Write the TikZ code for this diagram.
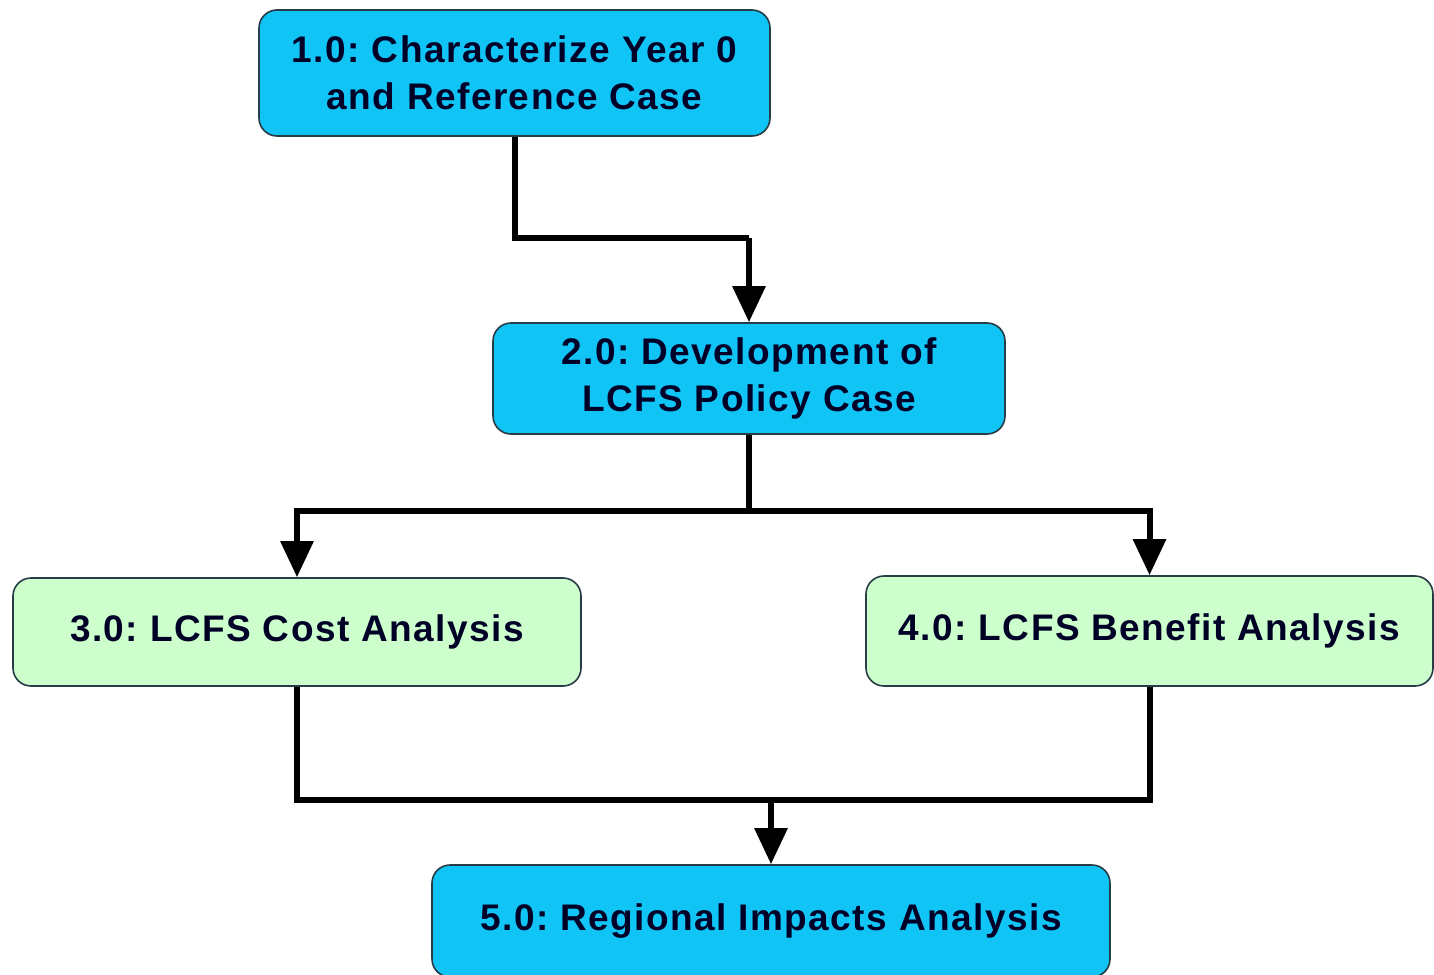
\documentclass[tikz,border=0pt]{standalone}
\usepackage{fontspec}
\setmainfont[LetterSpace=4]{Liberation Sans}
\usetikzlibrary{arrows.meta}
\definecolor{taskblue}{RGB}{16,196,245}
\definecolor{taskgreen}{RGB}{204,255,204}
\definecolor{rim}{RGB}{40,60,70}
\tikzset{every node/.style={rectangle,rounded corners=9pt,draw=rim,line width=0.8pt,align=center,inner sep=0pt,text=black!85!blue}}
\tikzset{blue/.style={fill=taskblue}}
\tikzset{green/.style={fill=taskgreen}}
\tikzset{link/.style={line width=3pt}}
\tikzset{arr/.style={link,-{Triangle[width=16pt,length=18pt]}}}

\begin{document}
\frenchspacing
\begin{tikzpicture}[x=0.5pt,y=-0.5pt,font=\fontsize{18.5}{23.5}\selectfont\bfseries]
      \useasboundingbox (0,0) rectangle (1434,974);
      \node[blue,minimum width=255.5pt,minimum height=63pt] (T1) at (514.5,73) {1.0: Characterize Year 0\\and Reference Case};
      \node[blue,minimum width=256pt,minimum height=55.5pt] (T2) at (749,378.5) {2.0: Development of\\LCFS Policy Case};
      \node[green,minimum width=284pt,minimum height=54pt] (T3) at (297,632) {3.0: LCFS Cost Analysis};
      \node[green,minimum width=283.5pt,minimum height=55pt] (T4) at (1149.5,631) {4.0: LCFS Benefit Analysis};
      \node[blue,minimum width=339pt,minimum height=56pt] (T5) at (771,921) {5.0: Regional Impacts Analysis};
      \coordinate (J12) at (749,238);
      \coordinate (S2) at (749,511);
      \coordinate (M5) at (771,800);
      \draw[link] (T1.south) |- (J12);
      \draw[arr] (J12) -- (T2.north);
      \draw[link] (T2.south) -- (S2);
      \foreach \t in {T3,T4}
        \draw[arr] (S2) -| (\t.north);
      \draw[link] (T3.south) |- (M5) -| (T4.south);
      \draw[arr] (M5) -- (T5.north);
\end{tikzpicture}
\end{document}
